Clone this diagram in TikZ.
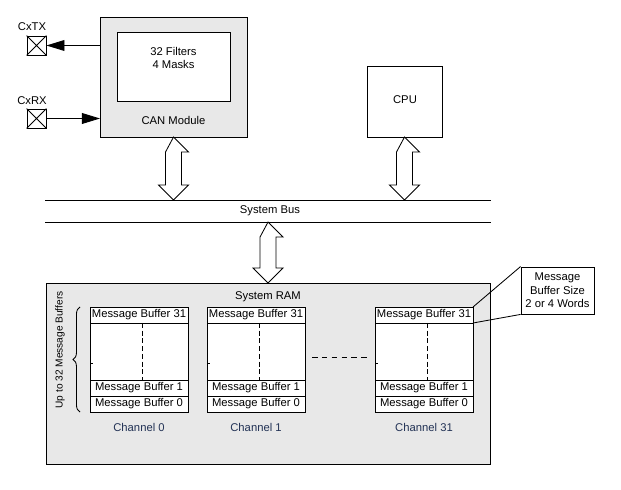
\documentclass[tikz,border=0pt]{standalone}
\usepackage{fontspec}
\setmainfont{Liberation Sans}
\usetikzlibrary{arrows.meta,positioning,calc,decorations.pathreplacing}
\definecolor{boxgray}{RGB}{232,232,232}
\definecolor{chanblue}{RGB}{34,50,85}

\newcommand{\busarrow}[2]{%
  \draw[fill=white,line join=miter] (#1) -- ++(15,15) -- ++(-7,0) -- ($(#2)+(8,-15)$) -- ++(7,0) -- (#2)
    -- ++(-15,-15) -- ++(7,0) -- ($(#1)+(-8,15)$) -- cycle;}

\begin{document}
\begin{tikzpicture}[x=0.025cm,y=-0.025cm,line width=0.6pt,
    every node/.style={font=\fontsize{8}{9.5}\selectfont},
    blk/.style={draw,anchor=north west,inner sep=0pt,outer sep=0pt},
    pinbox/.style={draw,minimum size=0.475cm,inner sep=0pt},
    mbrow/.style={draw,fill=white,minimum width=2.45cm,minimum height=0.4cm,inner sep=0pt,outer sep=0pt},
    mbmid/.style={mbrow,minimum height=1.425cm},
    sigarrow/.style={-{Triangle[length=0.45cm,width=0.27cm]}}]
  \useasboundingbox (0,0) rectangle (621,490);

  \node[blk,fill=boxgray,minimum width=3.675cm,minimum height=3cm] (can) at (100,17) {};
  \node[blk,fill=white,minimum width=2.825cm,minimum height=1.725cm] (filt) at (117,32) {};
  \node[align=center] (filttxt) at (173.5,58) {32 Filters\\4 Masks};
  \node (cantxt) at (173.5,120) {CAN Module};

  \node[pinbox] (tx) at (36.5,45.5) {};
  \node[pinbox] (rx) at (36.5,118.5) {};
  \node (txlbl) at (32,27) {CxTX};
  \node (rxlbl) at (32,101) {CxRX};
  \draw (tx.north west) -- (tx.south east) (tx.north east) -- (tx.south west);
  \draw (rx.north west) -- (rx.south east) (rx.north east) -- (rx.south west);
  \draw[sigarrow] (can.west |- tx) -- (tx);
  \draw[sigarrow] (rx) -- (rx -| can.west);

  \node[blk,minimum width=1.875cm,minimum height=1.775cm] (cpu) at (367,66) {};
  \node (cputxt) at (405,100) {CPU};

  \coordinate (bustl) at (45,200);
  \coordinate (bustr) at (491,200);
  \coordinate (busbl) at (45,222);
  \coordinate (busbr) at (491,222);
  \draw (bustl) -- (bustr);
  \draw (busbl) -- (busbr);
  \node (bus) at (270,211) {System Bus};

  \node[blk,fill=boxgray,minimum width=11.1cm,minimum height=4.525cm] (ram) at (46,283) {};
  \node (ramtxt) at (268,297) {System RAM};

  \coordinate (canbus) at (can.south |- bustl);
  \coordinate (cpubus) at (cpu.south |- bustl);
  \coordinate (rambus) at (ram.north |- busbl);
  \busarrow{can.south}{canbus}
  \busarrow{cpu.south}{cpubus}
  \busarrow{rambus}{ram.north}

  \foreach \x/\n in {90/0,207/1,375/31}{
    \node[mbrow,anchor=north west] (mbt\n) at (\x,307) {Message Buffer 31};
    \node[mbmid,below=0pt of mbt\n] (mbm\n) {};
    \node[mbrow,below=0pt of mbm\n] (mbo\n) {Message Buffer 1};
    \node[mbrow,below=0pt of mbo\n] (mbz\n) {Message Buffer 0};
    \draw[dash pattern=on 3.5pt off 2pt] ($(mbm\n.north)+(3,0)$) -- ($(mbm\n.south)+(3,0)$);
    \draw ($(mbm\n.south west)+(0,-17)$) -- ++(3,0);
    \node[text=chanblue] (ch\n) at ($(mbz\n.south)+(0,15)$) {Channel \n};
  }
  \draw[dash pattern=on 4pt off 3pt] ($(mbm1.east)+(7,6)$) -- ($(mbm31.west)+(-5,6)$);

  \draw[decorate,decoration={brace,amplitude=5pt}] ($(mbz0.south west)+(-10,0)$) -- ($(mbt0.north west)+(-10,0)$);
  \node[rotate=90,font=\fontsize{7.2}{8.5}\selectfont] (uplbl) at (60,350) {Up to 32 Message Buffers};

  \node[draw,fill=white,align=center,minimum width=1.825cm,minimum height=1.175cm,inner sep=1pt] (mbsize) at (557.5,290.5) {Message\\Buffer Size\\2 or 4 Words};
  \draw (mbsize.north west) -- (mbt31.north east);
  \draw (mbsize.south west) -- (mbt31.south east);
\end{tikzpicture}
\end{document}
